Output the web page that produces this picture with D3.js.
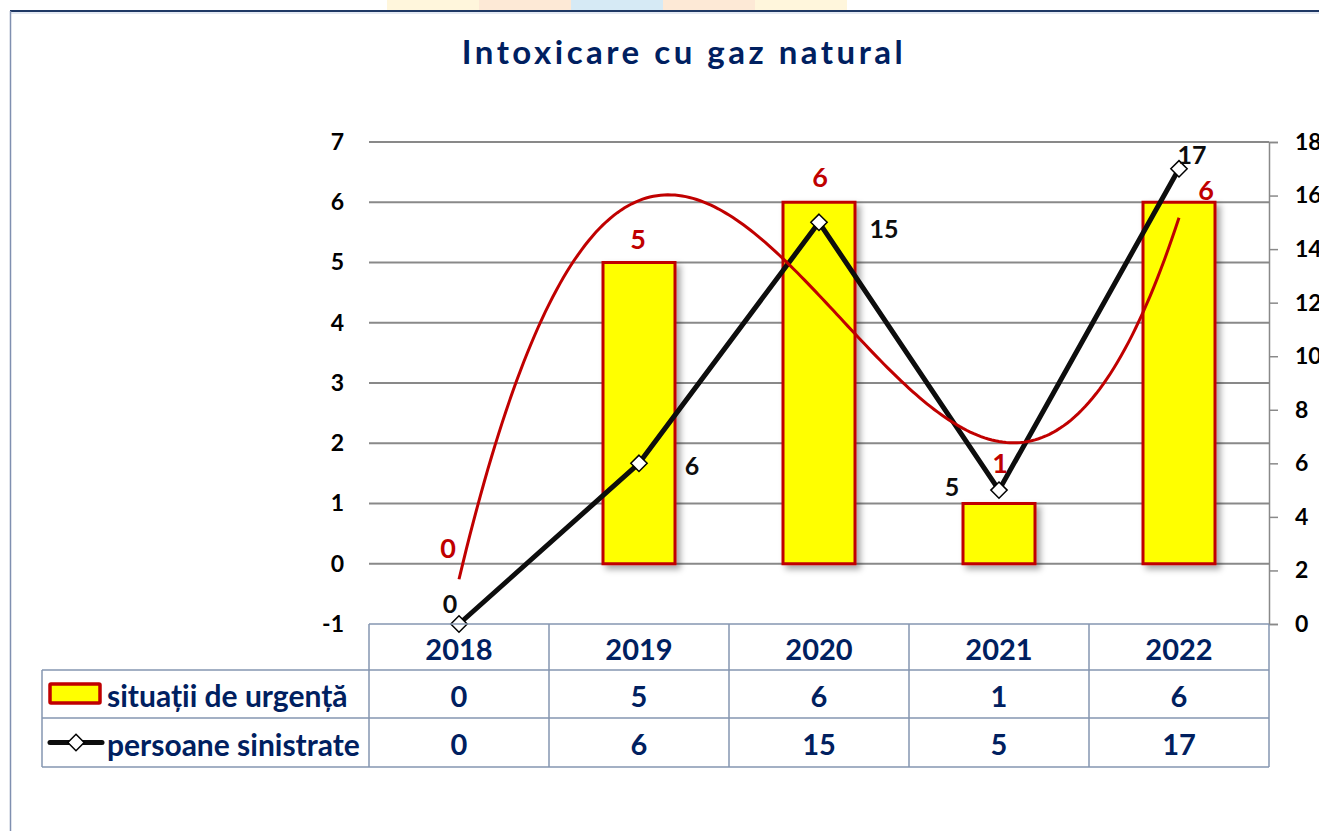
<!DOCTYPE html>
<head>
  <meta charset="utf-8">
  <script src="https://d3js.org/d3.v7.min.js"></script>
  <style>
  body,html {margin:0; background:#fff; font-family:Lato, "Open Sans", sans-serif;}
  .ax {font-size:23px; font-weight:bold; fill:#000;}
  .tbl {font-size:29px; font-weight:bold; fill:#002060;}
  .leg {font-size:30px;}
</style>
</head>

<body>
  <script>

    const W = 1319, H = 831;

    // data
    const years = ["2018", "2019", "2020", "2021", "2022"];
    const situatii = [0, 5, 6, 1, 6];
    const persoane = [0, 6, 15, 5, 17];
    const leftTicks = [-1, 0, 1, 2, 3, 4, 5, 6, 7];
    const rightTicks = [0, 2, 4, 6, 8, 10, 12, 14, 16, 18];
    const seriesNames = ["situații de urgență", "persoane sinistrate"];

    // manual label nudges, as placed in the original
    const barLabelOff = [[-11, -16], [-1, -24], [1, -26], [1, -41], [27, -13]];
    const lineLabelOff = [[-9, -21], [53, 2], [65, 6], [-47, -4], [13, -15]];

    const plot = {left: 369, right: 1269, top: 142, bottom: 624};

    const svg = d3.select("body").append("svg")
      .attr("width", W).attr("height", H);

    const defs = svg.append("defs");
    const f = defs.append("filter").attr("id", "shadow")
      .attr("x", "-20%").attr("y", "-20%").attr("width", "150%").attr("height", "150%");
    f.append("feDropShadow").attr("dx", 4).attr("dy", 4).attr("stdDeviation", 3)
      .attr("flood-color", "#000").attr("flood-opacity", 0.35);

    // faint slide background peeking above the frame
    const bgCols = ["#fff6dc", "#fde9d6", "#d6eaf5", "#fde9d6", "#fff6dc"];
    bgCols.forEach((c, i) => {
      svg.append("rect").attr("x", 387 + i * 92).attr("y", 0)
        .attr("width", 92).attr("height", 11).attr("fill", c);
    });

    // frame
    svg.append("line").attr("x1", 10).attr("x2", W).attr("y1", 11).attr("y2", 11)
      .attr("stroke", "#1f3864").attr("stroke-width", 2);
    svg.append("line").attr("x1", 10).attr("x2", W).attr("y1", 13).attr("y2", 13)
      .attr("stroke", "#c9d3e6").attr("stroke-width", 1);
    svg.append("line").attr("x1", 10.5).attr("x2", 10.5).attr("y1", 11).attr("y2", H)
      .attr("stroke", "#7f8fb0").attr("stroke-width", 1.5);

    // title
    svg.append("text").attr("x", 684).attr("y", 64)
      .attr("text-anchor", "middle")
      .style("font-size", "33px").style("font-weight", "bold")
      .style("letter-spacing", "3.5px").style("fill", "#002060")
      .text("Intoxicare cu gaz natural");

    const x = d3.scaleBand().domain(years).range([plot.left, plot.right]);
    const yL = d3.scaleLinear().domain([-1, 7]).range([plot.bottom, plot.top]);
    const yR = d3.scaleLinear().domain([0, 18]).range([plot.bottom, plot.top]);
    const cx = (i) => x(years[i]) + x.bandwidth() / 2;

    // gridlines
    svg.append("g").selectAll("line").data(leftTicks.filter(d => d >= 0)).enter()
      .append("line")
      .attr("x1", plot.left).attr("x2", plot.right)
      .attr("y1", d => yL(d)).attr("y2", d => yL(d))
      .attr("stroke", "#898989").attr("stroke-width", 2);

    // left axis labels
    const gl = svg.append("g").attr("transform", `translate(${plot.left - 25},0)`)
      .call(d3.axisLeft(yL).tickValues(leftTicks).tickSize(0).tickPadding(0)
        .tickFormat(d => String(d)));
    gl.select(".domain").remove();
    gl.selectAll("text").attr("class", "ax").style("font-family", "Lato");

    // right axis
    const gr = svg.append("g").attr("transform", `translate(${plot.right},0)`)
      .call(d3.axisRight(yR).tickValues(rightTicks).tickSize(9).tickPadding(17)
        .tickFormat(d => String(d)));
    gr.select(".domain").attr("stroke", "#898989").attr("stroke-width", 1.5);
    gr.selectAll(".tick line").attr("stroke", "#898989").attr("stroke-width", 1.5);
    gr.selectAll("text").attr("class", "ax").style("font-family", "Lato");

    // bars
    const bw = x.bandwidth() * 0.4;
    svg.append("g").selectAll("rect").data(situatii).enter().append("rect")
      .attr("x", (d, i) => cx(i) - bw / 2)
      .attr("y", d => yL(d))
      .attr("width", bw)
      .attr("height", d => yL(0) - yL(d))
      .attr("fill", "#ffff00").attr("stroke", "#c00000").attr("stroke-width", 3)
      .attr("filter", d => d > 0 ? "url(#shadow)" : null);

    // black line
    const line = d3.line().x((d, i) => cx(i)).y(d => yR(d));
    svg.append("path").datum(persoane).attr("d", line)
      .attr("fill", "none").attr("stroke", "#0d0d0d").attr("stroke-width", 5)
      .attr("stroke-linejoin", "round");

    // polynomial (order 3) trendline of the bars, least squares like Excel
    function polyFit(xs, ys, order) {
      const n = order + 1;
      const A = [], b = [];
      for (let r = 0; r < n; r++) {
        A.push([]);
        for (let c = 0; c < n; c++) A[r].push(d3.sum(xs, v => Math.pow(v, r + c)));
        b.push(d3.sum(xs, (v, k) => ys[k] * Math.pow(v, r)));
      }
      for (let p = 0; p < n; p++) {
        let m = p;
        for (let r = p + 1; r < n; r++) if (Math.abs(A[r][p]) > Math.abs(A[m][p])) m = r;
        [A[p], A[m]] = [A[m], A[p]]; [b[p], b[m]] = [b[m], b[p]];
        for (let r = p + 1; r < n; r++) {
          const k = A[r][p] / A[p][p];
          for (let c = p; c < n; c++) A[r][c] -= k * A[p][c];
          b[r] -= k * b[p];
        }
      }
      const coef = new Array(n).fill(0);
      for (let r = n - 1; r >= 0; r--) {
        let s = b[r];
        for (let c = r + 1; c < n; c++) s -= A[r][c] * coef[c];
        coef[r] = s / A[r][r];
      }
      return t => coef.reduce((acc, c, k) => acc + c * Math.pow(t, k), 0);
    }
    const idx = situatii.map((d, i) => i + 1);
    const trend = polyFit(idx, situatii, 3);
    const tx = d3.scaleLinear().domain([1, 5]).range([cx(0), cx(4)]);
    const trendPts = d3.range(1, 5.0001, 0.02).map(t => [tx(t), yL(trend(t))]);
    svg.append("path").datum(trendPts).attr("d", d3.line())
      .attr("fill", "none").attr("stroke", "#c00000").attr("stroke-width", 3);

    // diamond markers
    const diamond = d3.symbol().type(d3.symbolDiamond2).size(170);
    svg.append("g").selectAll("path").data(persoane).enter().append("path")
      .attr("d", diamond)
      .attr("transform", (d, i) => `translate(${cx(i)},${yR(d)})`)
      .attr("fill", "#fff").attr("stroke", "#000").attr("stroke-width", 1.5);

    // data labels
    svg.append("g").selectAll("text").data(situatii).enter().append("text")
      .attr("x", (d, i) => cx(i) + barLabelOff[i][0])
      .attr("y", (d, i) => yL(d) + barLabelOff[i][1])
      .attr("text-anchor", "middle").attr("dominant-baseline", "central")
      .style("font-size", "27px").style("font-weight", "bold").style("fill", "#c00000")
      .text(d => d);
    svg.append("g").selectAll("text").data(persoane).enter().append("text")
      .attr("x", (d, i) => cx(i) + lineLabelOff[i][0])
      .attr("y", (d, i) => yR(d) + lineLabelOff[i][1])
      .attr("text-anchor", "middle").attr("dominant-baseline", "central")
      .style("font-size", "25px").style("font-weight", "bold").style("fill", "#0d0d0d")
      .text(d => d);

    // data table
    const rows = [plot.bottom, 670, 718, 767];
    const tblStroke = "#8496b0";
    const tg = svg.append("g");
    tg.append("line").attr("x1", plot.left).attr("x2", plot.right)
      .attr("y1", rows[0]).attr("y2", rows[0]).attr("stroke", tblStroke).attr("stroke-width", 1.5);
    rows.slice(1).forEach(r => {
      tg.append("line").attr("x1", 42).attr("x2", plot.right)
        .attr("y1", r).attr("y2", r).attr("stroke", tblStroke).attr("stroke-width", 1.5);
    });
    years.forEach((yr, i) => {
      tg.append("line").attr("x1", x(yr)).attr("x2", x(yr))
        .attr("y1", rows[0]).attr("y2", rows[3]).attr("stroke", tblStroke).attr("stroke-width", 1.5);
    });
    tg.append("line").attr("x1", plot.right).attr("x2", plot.right)
      .attr("y1", rows[0]).attr("y2", rows[3]).attr("stroke", tblStroke).attr("stroke-width", 1.5);
    tg.append("line").attr("x1", 42).attr("x2", 42)
      .attr("y1", rows[1]).attr("y2", rows[3]).attr("stroke", tblStroke).attr("stroke-width", 1.5);

    const rowMid = (k) => (rows[k] + rows[k + 1]) / 2;
    [years, situatii, persoane].forEach((vals, k) => {
      tg.selectAll(null).data(vals).enter().append("text")
        .attr("class", "tbl")
        .attr("x", (d, i) => cx(i)).attr("y", rowMid(k) + 1)
        .attr("text-anchor", "middle").attr("dominant-baseline", "central")
        .text(d => d);
    });

    // legend keys in the table
    tg.append("rect").attr("x", 50).attr("y", 684).attr("width", 50).attr("height", 19)
      .attr("fill", "#ffff00").attr("stroke", "#c00000").attr("stroke-width", 3.5).attr("rx", 1);
    tg.append("line").attr("x1", 50).attr("x2", 102).attr("y1", rowMid(2)).attr("y2", rowMid(2))
      .attr("stroke", "#0d0d0d").attr("stroke-width", 5).attr("stroke-linecap", "round");
    tg.append("path").attr("d", diamond)
      .attr("transform", `translate(76,${rowMid(2)})`)
      .attr("fill", "#fff").attr("stroke", "#000").attr("stroke-width", 1.5);
    seriesNames.forEach((s, k) => {
      tg.append("text").attr("class", "tbl").classed("leg", true)
        .attr("x", 107).attr("y", rowMid(k + 1) + 1)
        .attr("dominant-baseline", "central")
        .text(s);
    });

  </script>
</body>
